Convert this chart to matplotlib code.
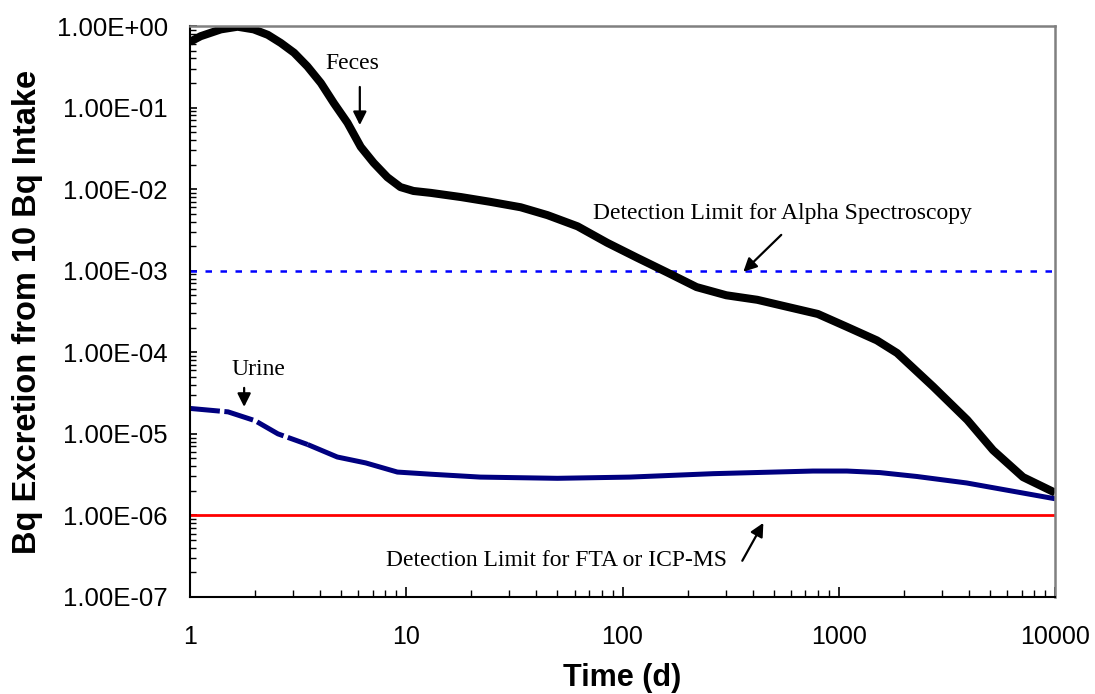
import matplotlib
matplotlib.use('Agg')
import matplotlib.pyplot as plt
from matplotlib.ticker import FuncFormatter, NullFormatter, LogLocator

# feces curve (days, Bq)
feces_t = [1, 1.12, 1.39, 1.66, 1.97, 2.29, 2.63, 3.03, 3.49, 4.03, 4.63, 5.35, 6.16, 7.07,
           8.18, 9.4, 10.8, 13, 17.9, 24.4, 33.8, 45, 62, 85, 117, 160, 220, 302, 420, 580,
           800, 1090, 1500, 1860, 2730, 3930, 5170, 7110, 10000]
feces_bq = [0.64, 0.75, 0.91, 0.98, 0.91, 0.78, 0.62, 0.47, 0.32, 0.20, 0.113, 0.065, 0.033,
            0.021, 0.014, 0.0106, 0.0095, 0.0090, 0.0080, 0.0070, 0.0060, 0.0048, 0.0035,
            0.0022, 0.00144, 9.6e-4, 6.3e-4, 5.0e-4, 4.4e-4, 3.6e-4, 2.95e-4, 2.05e-4,
            1.4e-4, 9.8e-5, 3.8e-5, 1.48e-5, 6.3e-6, 2.95e-6, 1.9e-6]

# urine curve
urine_t = [1, 1.5, 2, 2.55, 3.5, 4.8, 6.5, 9.1, 13, 22, 50, 108, 263, 760, 1090, 1550,
           2300, 3900, 10000]
urine_bq = [2.05e-5, 1.86e-5, 1.45e-5, 1.0e-5, 7.4e-6, 5.2e-6, 4.4e-6, 3.4e-6, 3.2e-6,
            2.95e-6, 2.85e-6, 2.95e-6, 3.25e-6, 3.5e-6, 3.5e-6, 3.35e-6, 3.0e-6, 2.5e-6, 1.6e-6]

alpha_limit = 1e-3
fta_limit = 1e-6

plt.rcParams['font.family'] = 'Liberation Sans'

fig = plt.figure(figsize=(10.95, 6.94), dpi=100)
ax = fig.add_axes([0.1735, 0.1398, 0.79, 0.8227])

ax.axhline(alpha_limit, color='#0000FF', lw=1.8, dashes=(2.6, 3.4))
ax.axhline(fta_limit, color='#FF0000', lw=2)

ax.plot(feces_t, feces_bq, color='black', lw=5.8, solid_joinstyle='round',
        solid_capstyle='butt')
# urine line is broken into dashes at the start
n = 4
ax.plot(urine_t[:n + 1], urine_bq[:n + 1], color='#000080', lw=3.6, dashes=(6, 0.9))
ax.plot(urine_t[n:], urine_bq[n:], color='#000080', lw=3.6, solid_joinstyle='round',
        solid_capstyle='butt')

ax.set_xscale('log')
ax.set_yscale('log')
ax.set_xlim(1, 10000)
ax.set_ylim(1e-7, 1)

ax.yaxis.set_major_locator(LogLocator(base=10, numticks=20))
ax.yaxis.set_major_formatter(FuncFormatter(lambda v, p: f'{v:.2E}'))
ax.yaxis.set_minor_formatter(NullFormatter())
ax.xaxis.set_major_formatter(FuncFormatter(lambda v, p: f'{v:g}'))
ax.xaxis.set_minor_formatter(NullFormatter())

ax.tick_params(axis='both', which='both', direction='in')
ax.tick_params(axis='y', which='major', length=5, width=1.2, pad=16, labelsize=18.5)
ax.tick_params(axis='y', which='minor', length=4, width=1)
ax.tick_params(axis='x', which='major', length=7, width=1.2, pad=20, labelsize=18)
ax.tick_params(axis='x', which='minor', length=5, width=1)

for s in ['top', 'right']:
    ax.spines[s].set_color('#808080')
    ax.spines[s].set_linewidth(1.8)
for s in ['left', 'bottom']:
    ax.spines[s].set_color('black')
    ax.spines[s].set_linewidth(1.5)

ax.set_xlabel('Time (d)', fontsize=22, fontweight='bold', labelpad=10)
ax.set_ylabel('Bq Excretion from 10 Bq Intake', fontsize=23.5, fontweight='bold',
              labelpad=10)

serif = 'Liberation Serif'
arr = dict(arrowstyle='-|>', lw=1.6, color='black', mutation_scale=20, shrinkA=0, shrinkB=0)

ax.text(5.66, 0.352, 'Feces', fontsize=17, family=serif, ha='center', va='center')
ax.annotate('', xy=(6.1, 0.061), xytext=(6.1, 0.179), arrowprops=arr)

ax.text(2.08, 6.08e-5, 'Urine', fontsize=17, family=serif, ha='center', va='center')
ax.annotate('', xy=(1.78, 2.14e-5), xytext=(1.78, 3.66e-5), arrowprops=arr)

ax.text(548, 5.1e-3, 'Detection Limit for Alpha Spectroscopy', fontsize=17, family=serif,
        ha='center', va='center')
ax.annotate('', xy=(362, 9.7e-4), xytext=(542, 2.75e-3), arrowprops=arr)

ax.text(49.6, 2.78e-7, 'Detection Limit for FTA or ICP-MS', fontsize=17, family=serif,
        ha='center', va='center')
ax.annotate('', xy=(448, 8.1e-7), xytext=(358, 2.78e-7), arrowprops=arr)

plt.savefig('out.png', dpi=100)
